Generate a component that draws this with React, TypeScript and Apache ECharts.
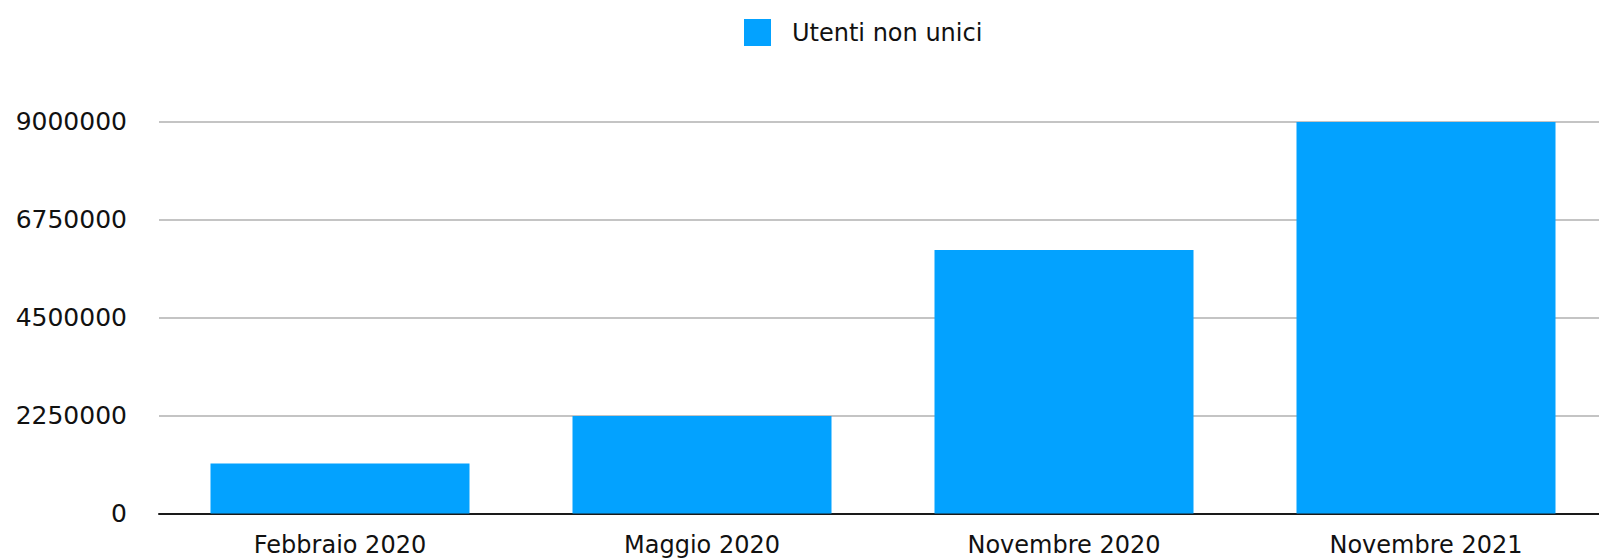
import React, { useEffect, useRef } from "react";
import * as echarts from "echarts";

const categories = ["Febbraio 2020", "Maggio 2020", "Novembre 2020", "Novembre 2021"];
const seriesName = "Utenti non unici";
const values = [1150000, 2240000, 6050000, 8990000];
const yTicks = [0, 2250000, 4500000, 6750000, 9000000];

export default function App() {
  const ref = useRef<HTMLDivElement>(null);
  useEffect(() => {
    if (!ref.current) return;
    const chart = echarts.init(ref.current, null, { renderer: "svg" });
    const font = "'DejaVu Sans', sans-serif";
    chart.setOption({
      animation: false,
      backgroundColor: "#ffffff",
      legend: {
        data: [seriesName],
        left: 739,
        top: 14,
        itemWidth: 27,
        itemHeight: 27,
        icon: "rect",
        textStyle: { fontFamily: font, fontSize: 24, color: "#111", padding: [0, 0, 0, 16] },
      },
      grid: { left: 159, top: 121.5, width: 1448, height: 392, containLabel: false },
      xAxis: {
        type: "category",
        data: categories,
        axisTick: { show: false },
        axisLine: { lineStyle: { color: "#1a1a1a", width: 2 } },
        axisLabel: { fontFamily: font, fontSize: 24, color: "#111", margin: 19, interval: 0 },
      },
      yAxis: {
        type: "value",
        min: yTicks[0],
        max: yTicks[yTicks.length - 1],
        interval: yTicks[1] - yTicks[0],
        axisLine: { show: false },
        axisTick: { show: false },
        splitLine: { lineStyle: { color: "#c4c4c4", width: 2 } },
        axisLabel: {
          fontFamily: font,
          fontSize: 25,
          color: "#111",
          margin: 32,
          formatter: (v: number) => String(v),
        },
      },
      series: [
        {
          name: seriesName,
          type: "bar",
          data: values,
          barWidth: 259,
          itemStyle: { color: "#03A2FF" },
        },
      ],
    });
    return () => chart.dispose();
  }, []);
  return (
    <div style={{ position: "fixed", left: 0, top: 0, width: 1599, height: 558, overflow: "hidden", background: "#fff" }}>
      <div ref={ref} style={{ width: 1610, height: 558 }} />
    </div>
  );
}
